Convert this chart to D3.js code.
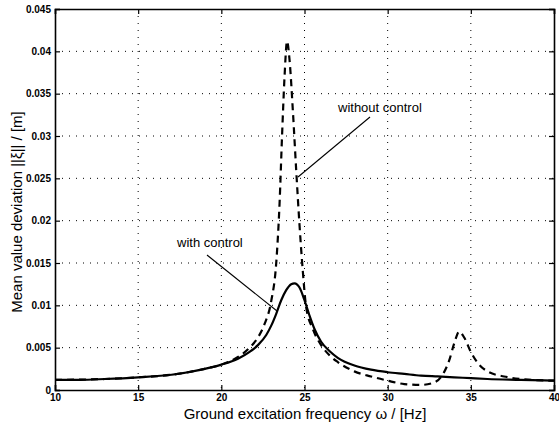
<!DOCTYPE html>
<html>
<head>
<meta charset="utf-8">
<script src="https://cdn.jsdelivr.net/npm/d3@7"></script>
<style>
  body { margin: 0; background: #fff; }
  text { font-family: "Liberation Sans", Arial, Helvetica, sans-serif; fill: #000; }
</style>
</head>
<body>
<script>
const width = 559, height = 428;
const margin = {left: 55, right: 5, top: 9, bottom: 38};

// with control (solid)
const freqWith = [10, 11.5, 13, 15, 17, 18, 19, 20, 21, 21.7, 22.2, 22.7, 23, 23.3, 23.6, 23.9, 24.2, 24.4, 24.7, 25, 25.3, 25.6, 26, 26.5, 27, 28, 29, 30, 31, 32, 33, 34, 35, 36, 38, 40];
const valWith = [0.0012, 0.0012, 0.0013, 0.0015, 0.0018, 0.0021, 0.0025, 0.003, 0.0037, 0.0045, 0.0053, 0.0065, 0.0076, 0.009, 0.0106, 0.0118, 0.0125, 0.0126, 0.0121, 0.0106, 0.0088, 0.0072, 0.0057, 0.0046, 0.0038, 0.0029, 0.0024, 0.0021, 0.0019, 0.0017, 0.0016, 0.0015, 0.0014, 0.0013, 0.0012, 0.0011];

// without control (dashed)
const freqWithout = [10, 13, 15, 17, 19, 20, 21, 21.7, 22.2, 22.6, 23, 23.3, 23.5, 23.65, 23.8, 23.95, 24.1, 24.3, 24.5, 24.7, 24.9, 25.1, 25.5, 26, 26.5, 27, 28, 29, 30, 31, 32, 32.8, 33.3, 33.7, 34, 34.3, 34.6, 35, 35.5, 36, 37, 38, 40];
const valWithout = [0.0012, 0.0013, 0.0015, 0.0018, 0.0025, 0.003, 0.0039, 0.005, 0.0062, 0.0078, 0.0105, 0.015, 0.022, 0.03, 0.037, 0.0412, 0.039, 0.033, 0.026, 0.0195, 0.014, 0.0098, 0.0072, 0.0053, 0.0041, 0.0033, 0.0022, 0.0016, 0.0011, 0.0007, 0.0006, 0.0009, 0.0018, 0.0035, 0.0055, 0.0069, 0.0062, 0.0045, 0.003, 0.0022, 0.0016, 0.0013, 0.0011];

const xTicks = [10, 15, 20, 25, 30, 35, 40];
const yTicks = [0, 0.005, 0.01, 0.015, 0.02, 0.025, 0.03, 0.035, 0.04, 0.045];

const svg = d3.select('body').append('svg').attr('width', width).attr('height', height);

const x = d3.scaleLinear().domain([10, 40]).range([margin.left, width - margin.right]);
const y = d3.scaleLinear().domain([0, 0.045]).range([height - margin.bottom, margin.top]);

// dotted grid
const grid = svg.append('g').attr('stroke', '#000').attr('stroke-width', 1).attr('stroke-dasharray', '1,6');
grid.selectAll('line.v').data(xTicks.slice(1, -1)).enter().append('line')
    .attr('x1', d => x(d)).attr('x2', d => x(d)).attr('y1', y(0.045)).attr('y2', y(0));
grid.selectAll('line.h').data(yTicks.slice(1, -1)).enter().append('line')
    .attr('x1', x(10)).attr('x2', x(40)).attr('y1', d => y(d)).attr('y2', d => y(d));

// axes with inward ticks
const fmtY = d => d === 0 ? '0' : String(+d.toFixed(3));
svg.append('g').attr('transform', `translate(0,${y(0)})`)
    .call(d3.axisBottom(x).tickValues(xTicks).tickSize(-5).tickPadding(4).tickFormat(d3.format('d')));
svg.append('g').attr('transform', `translate(0,${y(0.045)})`)
    .call(d3.axisTop(x).tickValues(xTicks).tickSize(-5).tickFormat(''));
svg.append('g').attr('transform', `translate(${x(10)},0)`)
    .call(d3.axisLeft(y).tickValues(yTicks).tickSize(-5).tickPadding(4).tickFormat(fmtY));
svg.append('g').attr('transform', `translate(${x(40)},0)`)
    .call(d3.axisRight(y).tickValues(yTicks).tickSize(-5).tickFormat(''));

svg.selectAll('.domain').attr('stroke', '#000').attr('stroke-width', 1.6);
svg.selectAll('.tick line').attr('stroke', '#000').attr('stroke-width', 1.2);
svg.selectAll('.tick text').style('font-size', '10px').style('font-weight', 'bold')
    .style('font-family', '"Liberation Sans", Arial, sans-serif');

// curves
const line = d3.line().x(d => x(d[0])).y(d => y(d[1])).curve(d3.curveMonotoneX);
svg.append('path').datum(freqWith.map((f, i) => [f, valWith[i]]))
    .attr('d', line).attr('fill', 'none').attr('stroke', '#000').attr('stroke-width', 2.2);
svg.append('path').datum(freqWithout.map((f, i) => [f, valWithout[i]]))
    .attr('d', line).attr('fill', 'none').attr('stroke', '#000').attr('stroke-width', 2.2)
    .attr('stroke-dasharray', '7,5');

// annotations
svg.append('text').attr('x', 338).attr('y', 112).style('font-size', '13px').text('without control');
svg.append('line').attr('x1', 370).attr('y1', 117).attr('x2', 298).attr('y2', 177)
    .attr('stroke', '#000').attr('stroke-width', 1.1);
svg.append('text').attr('x', 177).attr('y', 247).style('font-size', '13px').text('with control');
svg.append('line').attr('x1', 207).attr('y1', 255).attr('x2', 277).attr('y2', 311)
    .attr('stroke', '#000').attr('stroke-width', 1.1);

// axis titles
svg.append('text').attr('x', 305).attr('y', 419).attr('text-anchor', 'middle')
    .style('font-size', '15px').text('Ground excitation frequency ω / [Hz]');
svg.append('text').attr('transform', 'translate(22,212) rotate(-90)').attr('text-anchor', 'middle')
    .style('font-size', '15px').text('Mean value deviation ||ξ|| / [m]');
</script>
</body>
</html>
